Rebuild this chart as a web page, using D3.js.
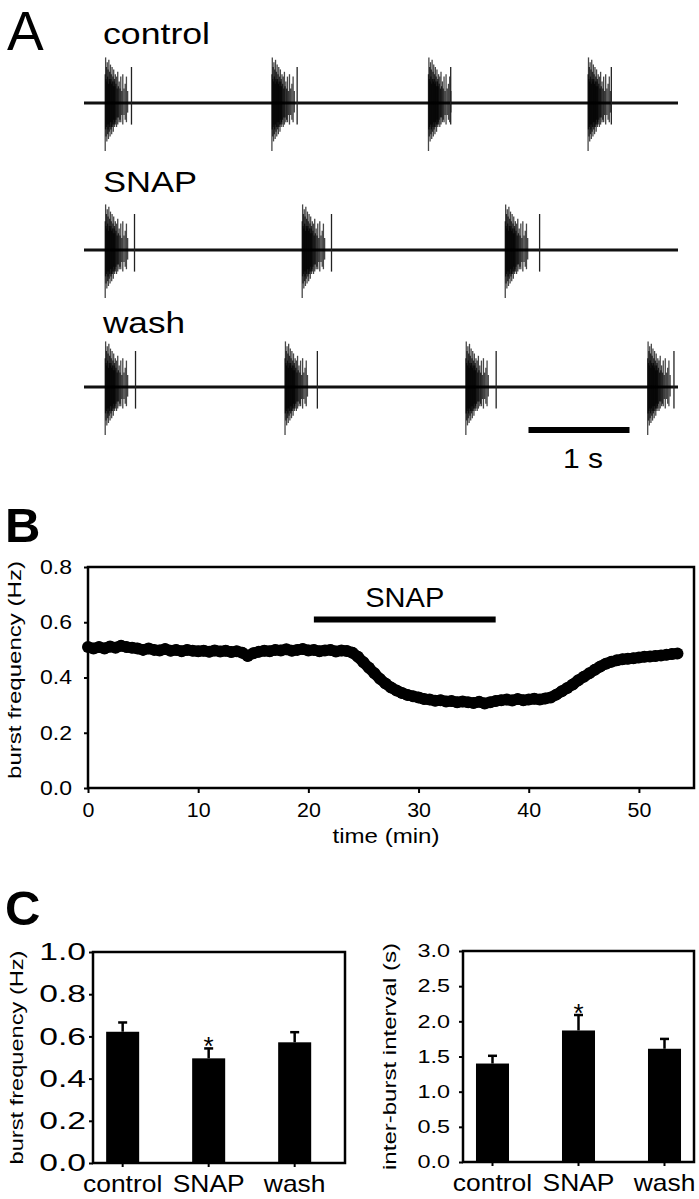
<!DOCTYPE html>
<html>
<head>
<meta charset="utf-8">
<script src="https://cdn.jsdelivr.net/npm/d3@7"></script>
<style>
  body { margin: 0; background: #fff; }
  svg { display: block; font-family: "Liberation Sans", Arial, Helvetica, sans-serif; }
</style>
</head>
<body>
<script>
// ---- panel A : burst onsets (s) and the late isolated spike of each burst (s after onset)
const traceNames = ["control", "SNAP", "wash"];
const controlBursts = [0.21, 1.86, 3.41, 4.99];
const snapBursts = [0.21, 2.16, 4.17];
const washBursts = [0.21, 1.99, 3.78, 5.58];
const controlTail = [0.26, 0.25, 0.22, 0.23];
const snapTail = [0.29, 0.29, 0.34];
const washTail = [0.30, 0.32, 0.30, 0.26];

// spikes inside one burst (offset s, upward / downward amplitude, relative)
const spikeOffset = [0.000, 0.004, 0.008, 0.012, 0.016, 0.020, 0.024, 0.028, 0.032, 0.036,
  0.040, 0.044, 0.048, 0.052, 0.056, 0.060, 0.064, 0.068, 0.072, 0.076,
  0.080, 0.084, 0.088, 0.092, 0.096, 0.100, 0.106, 0.112, 0.118, 0.124,
  0.130, 0.138, 0.146, 0.154, 0.164, 0.174, 0.186, 0.198, 0.210, 0.222];
const spikeUp = [0.60, 0.95, 0.50, 0.75, 0.45, 0.85, 0.55, 0.70, 0.40, 0.90,
  0.50, 0.65, 0.45, 0.80, 0.50, 0.60, 0.40, 0.75, 0.45, 0.55,
  0.35, 0.70, 0.45, 0.50, 0.35, 0.60, 0.40, 0.55, 0.30, 0.65,
  0.35, 0.45, 0.30, 0.55, 0.25, 0.60, 0.30, 0.40, 0.55, 0.25];
const spikeDown = [1.00, 0.55, 0.70, 0.50, 0.80, 0.45, 0.65, 0.55, 0.75, 0.45,
  0.60, 0.50, 0.70, 0.40, 0.55, 0.50, 0.65, 0.40, 0.50, 0.45,
  0.60, 0.35, 0.45, 0.50, 0.40, 0.45, 0.35, 0.50, 0.30, 0.45,
  0.30, 0.40, 0.35, 0.40, 0.25, 0.45, 0.25, 0.35, 0.40, 0.20];

// ---- panel B : burst frequency time course
const timeMin = [0, 0.5, 1, 1.5, 2, 2.5, 3, 3.5, 4, 4.5, 5, 5.5, 6, 6.5, 7, 7.5, 8, 8.5, 9, 9.5,
  10, 10.5, 11, 11.5, 12, 12.5, 13, 13.5, 14, 14.5, 15, 15.5, 16, 16.5, 17, 17.5, 18, 18.5, 19, 19.5,
  20, 20.5, 21, 21.5, 22, 22.5, 23, 23.5, 24, 24.5, 25, 25.5, 26, 26.5, 27, 27.5, 28, 28.5, 29, 29.5,
  30, 30.5, 31, 31.5, 32, 32.5, 33, 33.5, 34, 34.5, 35, 35.5, 36, 36.5, 37, 37.5, 38, 38.5, 39, 39.5,
  40, 40.5, 41, 41.5, 42, 42.5, 43, 43.5, 44, 44.5, 45, 45.5, 46, 46.5, 47, 47.5, 48, 48.5, 49, 49.5,
  50, 50.5, 51, 51.5, 52, 52.5, 53, 53.5];
const burstFreq = [0.510, 0.505, 0.510, 0.505, 0.512, 0.508, 0.515, 0.510, 0.508, 0.505,
  0.500, 0.505, 0.500, 0.498, 0.503, 0.497, 0.500, 0.495, 0.500, 0.497,
  0.495, 0.497, 0.493, 0.498, 0.494, 0.497, 0.492, 0.495, 0.490, 0.478,
  0.488, 0.493, 0.497, 0.495, 0.500, 0.498, 0.502, 0.497, 0.500, 0.503,
  0.498, 0.500, 0.495, 0.498, 0.500, 0.494, 0.498, 0.496, 0.490, 0.475,
  0.455, 0.435, 0.415, 0.395, 0.378, 0.364, 0.353, 0.344, 0.337, 0.332,
  0.328, 0.322, 0.320, 0.316, 0.318, 0.313, 0.315, 0.310, 0.313, 0.310,
  0.308, 0.312, 0.306, 0.310, 0.315, 0.318, 0.320, 0.317, 0.322, 0.318,
  0.320, 0.323, 0.320, 0.324, 0.328, 0.338, 0.350, 0.362, 0.375, 0.390,
  0.403, 0.415, 0.428, 0.440, 0.450, 0.457, 0.462, 0.466, 0.468, 0.470,
  0.472, 0.475, 0.476, 0.478, 0.480, 0.482, 0.485, 0.487];
const snapOn = [20.5, 37];
const snapBarLevel = 0.61;
const freqTicks = [0, 0.2, 0.4, 0.6, 0.8];
const timeTicks = [0, 10, 20, 30, 40, 50];

// ---- panel C : group means and SEM
const groups = ["control", "SNAP", "wash"];
const freqMean = [0.622, 0.496, 0.572];
const freqSem = [0.044, 0.047, 0.048];
const ibiMean = [1.40, 1.87, 1.61];
const ibiSem = [0.11, 0.22, 0.14];
const signif = ["", "*", ""];
const freqTicksC = [0, 0.2, 0.4, 0.6, 0.8, 1.0];
const ibiTicks = [0, 0.5, 1.0, 1.5, 2.0, 2.5, 3.0];

const svg = d3.select("body").append("svg").attr("width", 699).attr("height", 1199);

function stretch(sel, k) {
  sel.each(function () {
    const n = this.getComputedTextLength();
    d3.select(this).attr("textLength", n * k).attr("lengthAdjust", "spacingAndGlyphs");
  });
}

function label(x, y, txt, size, w, opts) {
  const t = svg.append("text")
    .attr("x", x).attr("y", y)
    .attr("font-size", size)
    .text(txt);
  if (opts && opts.anchor) t.attr("text-anchor", opts.anchor);
  if (opts && opts.bold) t.attr("font-weight", "bold");
  if (opts && opts.rotate) t.attr("transform", "rotate(-90," + x + "," + y + ")");
  if (w) t.attr("textLength", w).attr("lengthAdjust", "spacingAndGlyphs");
  return t;
}

// ================= A =================
label(7, 50, "A", 55, null);

const xA = d3.scaleLinear().domain([0, 5.88]).range([84, 678]);
const ampA = d3.scaleLinear().domain([-1, 1]).range([48, -48]);
const traceY = [103, 250, 387];
const labelY = [44, 192, 333];
const labelW = [107, 94, 82];
const traceBursts = [controlBursts, snapBursts, washBursts];
const traceTails = [controlTail, snapTail, washTail];

traceNames.forEach((name, i) => {
  label(103, labelY[i], name, 30, labelW[i]);
  const g = svg.append("g").attr("transform", "translate(0," + traceY[i] + ")");
  g.append("line")
    .attr("x1", xA(0)).attr("x2", xA(5.88))
    .attr("y1", 0).attr("y2", 0)
    .attr("stroke", "#111").attr("stroke-width", 3);
  traceBursts[i].forEach((b, k) => {
    const bg = g.append("g");
    bg.selectAll("line")
      .data(spikeOffset)
      .enter()
      .append("line")
      .attr("x1", (d) => xA(b + d))
      .attr("x2", (d) => xA(b + d))
      .attr("y1", (d, j) => ampA(spikeUp[j]))
      .attr("y2", (d, j) => ampA(-spikeDown[j]))
      .attr("stroke", "#000")
      .attr("stroke-width", 1.3)
      .attr("stroke-opacity", 0.72);
    bg.append("line")
      .attr("x1", xA(b + traceTails[i][k]))
      .attr("x2", xA(b + traceTails[i][k]))
      .attr("y1", ampA(0.75))
      .attr("y2", ampA(-0.45))
      .attr("stroke", "#222")
      .attr("stroke-width", 1.3);
  });
});

// scale bar 1 s
svg.append("line")
  .attr("x1", xA(4.4)).attr("x2", xA(5.4))
  .attr("y1", 430).attr("y2", 430)
  .attr("stroke", "#000").attr("stroke-width", 6);
label((xA(4.4) + xA(5.4)) / 2 + 4, 468, "1 s", 28, 40, { anchor: "middle" });

// ================= B =================
label(5, 542, "B", 49, null, { bold: true });

const xB = d3.scaleLinear().domain([0, 55]).range([88, 694]);
const yB = d3.scaleLinear().domain([0, 0.8]).range([788, 567]);

const axYB = svg.append("g")
  .attr("transform", "translate(" + xB(0) + ",0)")
  .call(d3.axisLeft(yB).tickValues(freqTicks).tickFormat(d3.format(".1f")).tickSize(4).tickPadding(12));
const axXB = svg.append("g")
  .attr("transform", "translate(0," + yB(0) + ")")
  .call(d3.axisBottom(xB).tickValues(timeTicks).tickSize(5).tickPadding(10));
[axYB, axXB].forEach((a) => {
  a.select(".domain").remove();
  a.selectAll("line").attr("stroke", "#000").attr("stroke-width", 2);
  a.selectAll("text").attr("font-size", 20).attr("fill", "#000").attr("font-family", null);
});
stretch(axYB.selectAll("text"), 1.15);
stretch(axXB.selectAll("text"), 1.07);

svg.append("rect")
  .attr("x", xB(0)).attr("y", yB(0.8))
  .attr("width", xB(55) - xB(0)).attr("height", yB(0) - yB(0.8))
  .attr("fill", "none").attr("stroke", "#000").attr("stroke-width", 2.5);

const pts = timeMin.map((t, i) => [t, burstFreq[i]]);
svg.append("path")
  .datum(pts)
  .attr("d", d3.line().x((d) => xB(d[0])).y((d) => yB(d[1])))
  .attr("fill", "none").attr("stroke", "#000")
  .attr("stroke-width", 11).attr("stroke-linejoin", "round");
svg.append("g").selectAll("circle")
  .data(pts)
  .enter()
  .append("circle")
  .attr("cx", (d) => xB(d[0]))
  .attr("cy", (d) => yB(d[1]))
  .attr("r", 6)
  .attr("fill", "#000");

svg.append("line")
  .attr("x1", xB(snapOn[0])).attr("x2", xB(snapOn[1]))
  .attr("y1", yB(snapBarLevel)).attr("y2", yB(snapBarLevel))
  .attr("stroke", "#000").attr("stroke-width", 6);
label((xB(snapOn[0]) + xB(snapOn[1])) / 2, 607, "SNAP", 28, 79, { anchor: "middle" });

label(386, 843, "time (min)", 21, 107, { anchor: "middle" });
label(21, 670, "burst frequency (Hz)", 18, 218, { anchor: "middle", rotate: true });

// ================= C =================
label(5, 925, "C", 49, null, { bold: true });

function barChart(opt) {
  const x = d3.scaleBand().domain(groups).range([opt.left, opt.right])
    .paddingInner(0.616).paddingOuter(opt.po).align(opt.align);
  const y = d3.scaleLinear().domain([0, opt.max]).range([opt.bottom, opt.top]);

  const ay = svg.append("g")
    .attr("transform", "translate(" + opt.left + ",0)")
    .call(d3.axisLeft(y).tickValues(opt.ticks).tickFormat(d3.format(".1f")).tickSize(4).tickPadding(opt.pad));
  const ax = svg.append("g")
    .attr("transform", "translate(0," + opt.bottom + ")")
    .call(d3.axisBottom(x).tickSize(4).tickPadding(8));
  [ay, ax].forEach((a) => {
    a.select(".domain").remove();
    a.selectAll("line").attr("stroke", "#000").attr("stroke-width", 2);
    a.selectAll("text").attr("fill", "#000").attr("font-family", null);
  });
  ay.selectAll("text").attr("font-size", opt.tickFont);
  stretch(ay.selectAll("text"), opt.tickStretch);
  ax.selectAll("text").attr("font-size", 24);
  stretch(ax.selectAll("text"), 1.1);

  svg.append("g").selectAll("rect")
    .data(groups)
    .enter()
    .append("rect")
    .attr("x", (d) => x(d))
    .attr("width", x.bandwidth())
    .attr("y", (d, i) => y(opt.mean[i]))
    .attr("height", (d, i) => y(0) - y(opt.mean[i]))
    .attr("fill", "#000");

  const eb = svg.append("g").selectAll("g")
    .data(groups)
    .enter()
    .append("g");
  eb.append("line")
    .attr("x1", (d) => x(d) + x.bandwidth() / 2)
    .attr("x2", (d) => x(d) + x.bandwidth() / 2)
    .attr("y1", (d, i) => y(opt.mean[i]))
    .attr("y2", (d, i) => y(opt.mean[i] + opt.sem[i]))
    .attr("stroke", "#000").attr("stroke-width", 2.5);
  eb.append("line")
    .attr("x1", (d) => x(d) + x.bandwidth() / 2 - 4.5)
    .attr("x2", (d) => x(d) + x.bandwidth() / 2 + 4.5)
    .attr("y1", (d, i) => y(opt.mean[i] + opt.sem[i]))
    .attr("y2", (d, i) => y(opt.mean[i] + opt.sem[i]))
    .attr("stroke", "#000").attr("stroke-width", 2.5);
  eb.append("text")
    .attr("x", (d) => x(d) + x.bandwidth() / 2)
    .attr("y", (d, i) => y(opt.mean[i] + opt.sem[i]) + 7)
    .attr("text-anchor", "middle")
    .attr("font-size", 26)
    .text((d, i) => signif[i]);

  svg.append("rect")
    .attr("x", opt.left).attr("y", opt.top)
    .attr("width", opt.right - opt.left).attr("height", opt.bottom - opt.top)
    .attr("fill", "none").attr("stroke", "#000").attr("stroke-width", 2.5);

  label(opt.labelX, (opt.top + opt.bottom) / 2, opt.title, 19, opt.titleW, { anchor: "middle", rotate: true });
}

barChart({
  left: 93, right: 345, top: 952, bottom: 1163, max: 1.0,
  po: 0.273, align: 0.28, ticks: freqTicksC, pad: 3, tickFont: 24, tickStretch: 1.4,
  mean: freqMean, sem: freqSem,
  labelX: 23, title: "burst frequency (Hz)", titleW: 214
});
barChart({
  left: 463, right: 694, top: 951, bottom: 1162, max: 3.0,
  po: 0.151, align: 0.5, ticks: ibiTicks, pad: 9, tickFont: 18, tickStretch: 1.3,
  mean: ibiMean, sem: ibiSem,
  labelX: 396, title: "inter-burst interval (s)", titleW: 227
});
</script>
</body>
</html>
